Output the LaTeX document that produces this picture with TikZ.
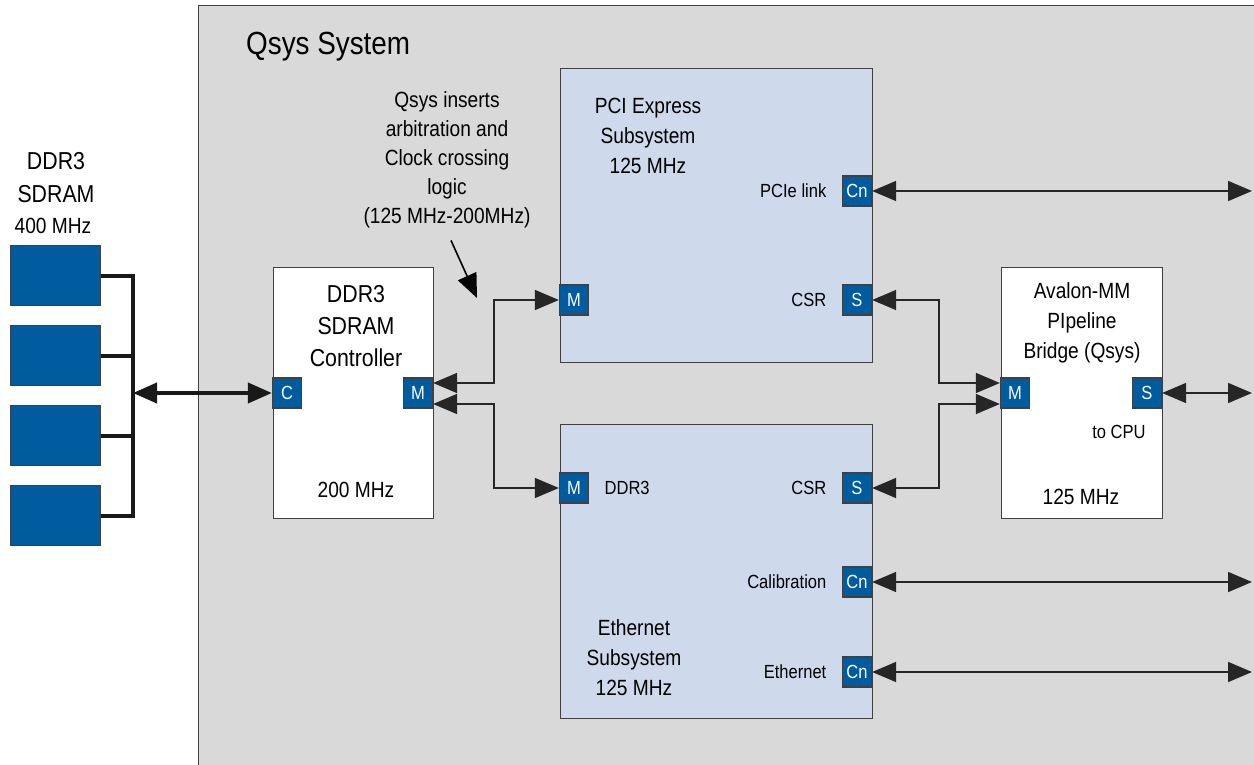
\documentclass[tikz,border=0pt]{standalone}
\usepackage{fontspec}
\setmainfont{Liberation Sans}[FakeStretch=0.87]
\usetikzlibrary{positioning}
\usetikzlibrary{arrows.meta}

\definecolor{sysgray}{HTML}{D9D9D9}
\definecolor{portblue}{HTML}{005C9E}
\definecolor{subblue}{HTML}{CED9EC}
\definecolor{edgegray}{HTML}{404040}

\begin{document}
\begin{tikzpicture}[
    x=1pt,y=-1pt,
    font=\fontsize{22}{30}\selectfont,
    block/.style={rectangle,draw=edgegray,line width=1.3pt,anchor=north west,inner sep=0pt},
    subsys/.style={block,fill=subblue},
    plainbox/.style={block,fill=white},
    port/.style={rectangle,draw=edgegray,line width=1.3pt,fill=portblue,text=white,
        minimum width=29pt,minimum height=30pt,inner sep=0pt,font=\fontsize{19}{20}\selectfont},
    chip/.style={block,fill=portblue,minimum width=90pt,minimum height=60pt},
    small/.style={font=\fontsize{19}{20}\selectfont},
    label/.style={align=center,inner sep=0pt},
    big/.style={font=\fontsize{24.5}{32}\selectfont},
    link/.style={{Triangle[length=24pt,width=20pt]}-{Triangle[length=24pt,width=20pt]},
        line width=1.6pt,draw=black!85},
    bus/.style={line width=4pt,draw=black!90},
    >={Triangle[length=24pt,width=20pt]}
]
\useasboundingbox (0,0) rectangle (1254,765);
\clip (0,0) rectangle (1254,765);

% Qsys 系统背景
\node[block,fill=sysgray,minimum width=1100pt,minimum height=800pt] (qsys) at (198,5) {};
\node[anchor=west,inner sep=0pt,font=\fontsize{32}{34}\selectfont] (qsystitle) at (246,47) {Qsys System};

% 左侧 DDR3 存储芯片
\node[label,big,font=\fontsize{24.5}{33}\selectfont] (ddrtxt) at (56,178) {DDR3\\SDRAM};
\node[label,font=\fontsize{22}{24}\selectfont] (ddrclk) at (53,226) {400 MHz};
\node[chip] (chip1) at (10,245) {};
\node[chip] (chip2) at (10,325) {};
\node[chip] (chip3) at (10,405) {};
\node[chip] (chip4) at (10,485) {};
\coordinate (bus) at (133,393);

% DDR3 控制器
\node[plainbox,minimum width=160pt,minimum height=251pt] (ctrl) at (273,267) {};
\node[label,big] (ctrltxt) at (356,326) {DDR3\\SDRAM\\Controller};
\node[label] (ctrlclk) at (356,490) {200 MHz};
\node[port] (ctrlC) at (287,393) {C};
\node[port] (ctrlM) at (418,393) {M};

% 仲裁说明
\node[label,font=\fontsize{22}{29}\selectfont] (note) at (447,160)
    {Qsys inserts\\arbitration and\\Clock crossing\\logic\\(125 MHz-200MHz)};
\coordinate (notetip) at (477,298);

% PCI Express 子系统
\node[subsys,minimum width=312pt,minimum height=294pt] (pcie) at (560,68) {};
\node[label] (pcietxt) at (648,136) {PCI Express\\Subsystem\\125 MHz};
\node[port] (pcieM) at (574,300) {M};
\node[port] (pcieCn) at (857,191) {Cn};
\node[port] (pcieS) at (857,300) {S};
\node[small,left=12pt of pcieCn] (pcielink) {PCIe link};
\node[small,left=12pt of pcieS] (pciecsr) {CSR};

% Ethernet 子系统
\node[subsys,minimum width=312pt,minimum height=294pt] (eth) at (560,424) {};
\node[label] (ethtxt) at (634,658) {Ethernet\\Subsystem\\125 MHz};
\node[port] (ethM) at (574,488) {M};
\node[port] (ethS) at (857,488) {S};
\node[port] (ethCal) at (857,582) {Cn};
\node[port] (ethNet) at (857,672) {Cn};
\node[small,right=12pt of ethM] (ethddr) {DDR3};
\node[small,left=12pt of ethS] (ethcsr) {CSR};
\node[small,left=12pt of ethCal] (ethcaltxt) {Calibration};
\node[small,left=12pt of ethNet] (ethnettxt) {Ethernet};

% Avalon-MM 桥
\node[plainbox,minimum width=161pt,minimum height=251pt] (brg) at (1001,267) {};
\node[label] (brgtxt) at (1082,323) {Avalon-MM\\PIpeline\\Bridge (Qsys)};
\node[label] (brgclk) at (1081,497) {125 MHz};
\node[port] (brgM) at (1015,393) {M};
\node[port] (brgS) at (1147,393) {S};
\node[small,inner sep=0pt] (brgcpu) at (1119,432) {to CPU};

% 右侧外部连接端点
\coordinate (out1) at (1252,191);
\coordinate (out2) at (1252,393);
\coordinate (out3) at (1252,582);
\coordinate (out4) at (1252,672);

% 芯片总线
\draw[bus] (chip1.east) -| (bus);
\draw[bus] (chip4.east) -| (bus);
\draw[bus] (chip2.east) -- (chip2.east -| bus);
\draw[bus] (chip3.east) -- (chip3.east -| bus);
\draw[bus,<->] (bus) -- (ctrlC.west);

% 控制器到子系统
\draw[link] ([yshift=10pt]ctrlM.east) -- ++(61,0) |- (pcieM.west);
\draw[link] ([yshift=-11pt]ctrlM.east) -- ++(61,0) |- (ethM.west);
\draw[->,line width=1.6pt] ([xshift=4pt,yshift=-12pt]note.south) -- (notetip);

% 子系统 CSR 到桥
\draw[link] (pcieS.east) -- ++(67,0) |- ([yshift=10pt]brgM.west);
\draw[link] (ethS.east) -- ++(67,0) |- ([yshift=-11pt]brgM.west);

% 外部连接
\draw[link] (pcieCn.east) -- (out1);
\draw[link] (brgS.east) -- (out2);
\draw[link] (ethCal.east) -- (out3);
\draw[link] (ethNet.east) -- (out4);

\end{tikzpicture}
\end{document}
